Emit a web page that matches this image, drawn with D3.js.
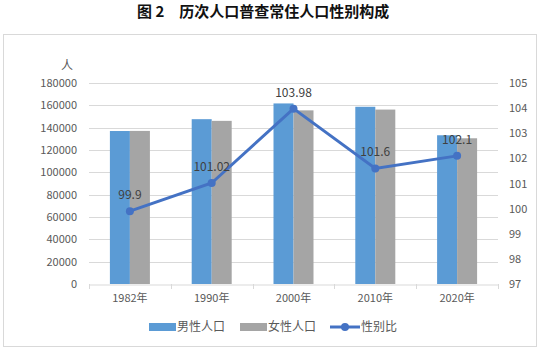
<!DOCTYPE html>
<html>
<head>
<meta charset="utf-8">
<script src="https://cdn.jsdelivr.net/npm/d3@7"></script>
<style>
    body{ margin:0; background:#fff; }
    text{ font-family: "Noto Sans CJK SC", "Noto Sans", sans-serif; }
    .tick text{ fill:#595959; font-size:11px; }
</style>
</head>
<body>
<script>
// data
const years = ["1982年", "1990年", "2000年", "2010年", "2020年"]
const male = [137000, 147600, 161700, 158700, 133200]
const female = [137100, 146100, 155500, 156200, 130500]
const ratio = [99.9, 101.02, 103.98, 101.6, 102.1]
const leftTicks = [0, 20000, 40000, 60000, 80000, 100000, 120000, 140000, 160000, 180000]
const rightTicks = [97, 98, 99, 100, 101, 102, 103, 104, 105]

const w = 540, h = 351
const plot = {left: 89, right: 498, top: 83, bottom: 284}

let svg = d3.select("body").append("svg")
    .attr("width", w).attr("height", h)

// title
svg.append("text")
    .attr("x", 137).attr("y", 17)
    .attr("font-size", 15).attr("font-weight", "bold").attr("fill", "#111")
    .text("图 2　历次人口普查常住人口性别构成")

// frame
svg.append("rect")
    .attr("x", 3.5).attr("y", 34.5).attr("width", 533).attr("height", 312)
    .attr("fill", "none").attr("stroke", "#d9d9d9")

let x = d3.scaleBand().domain(years).range([plot.left, plot.right])
let yL = d3.scaleLinear().domain([0, 180000]).range([plot.bottom, plot.top])
let yR = d3.scaleLinear().domain([97, 105]).range([plot.bottom, plot.top])

// gridlines
svg.append("g").selectAll("line")
    .data(leftTicks.slice(1))
    .enter().append("line")
    .attr("x1", plot.left).attr("x2", plot.right)
    .attr("y1", d => Math.round(yL(d)) + 0.5).attr("y2", d => Math.round(yL(d)) + 0.5)
    .attr("stroke", "#d9d9d9")

// left axis labels
let la = svg.append("g")
    .attr("transform", "translate(" + (plot.left - 12) + ",0)")
    .call(d3.axisLeft(yL).tickValues(leftTicks).tickSize(0).tickPadding(0).tickFormat(d3.format("d")))
la.select(".domain").remove()

// right axis labels
let ra = svg.append("g")
    .attr("transform", "translate(" + (plot.right + 11) + ",0)")
    .call(d3.axisRight(yR).tickValues(rightTicks).tickSize(0).tickPadding(0))
ra.select(".domain").remove()

svg.append("text")
    .attr("x", 67).attr("y", 70).attr("text-anchor", "middle")
    .attr("font-size", 12).attr("fill", "#595959")
    .text("人")

// bars
let bw = 20
svg.append("g").selectAll("rect")
    .data(male).enter().append("rect")
    .attr("x", (d, i) => x(years[i]) + x.bandwidth() / 2 - bw)
    .attr("y", d => yL(d))
    .attr("width", bw)
    .attr("height", d => plot.bottom - yL(d))
    .attr("fill", "#5b9bd5")
svg.append("g").selectAll("rect")
    .data(female).enter().append("rect")
    .attr("x", (d, i) => x(years[i]) + x.bandwidth() / 2)
    .attr("y", d => yL(d))
    .attr("width", bw)
    .attr("height", d => plot.bottom - yL(d))
    .attr("fill", "#a5a5a5")

// x axis
let xa = svg.append("g")
    .attr("transform", "translate(0," + (plot.bottom + 0.5) + ")")
    .call(d3.axisBottom(x).tickSize(0).tickPadding(10))
xa.select(".domain").attr("stroke", "#d9d9d9")
xa.selectAll(".tick text").attr("font-size", 12)
svg.append("g").selectAll("line")
    .data(d3.range(years.length + 1)).enter().append("line")
    .attr("x1", i => Math.round(plot.left + i * x.step()) + 0.5)
    .attr("x2", i => Math.round(plot.left + i * x.step()) + 0.5)
    .attr("y1", plot.bottom).attr("y2", plot.bottom + 5)
    .attr("stroke", "#d9d9d9")

// ratio line
let line = d3.line()
    .x((d, i) => x(years[i]) + x.bandwidth() / 2)
    .y(d => yR(d))
svg.append("path")
    .datum(ratio)
    .attr("d", line)
    .attr("fill", "none").attr("stroke", "#4472c4").attr("stroke-width", 3)
svg.append("g").selectAll("circle")
    .data(ratio).enter().append("circle")
    .attr("cx", (d, i) => x(years[i]) + x.bandwidth() / 2)
    .attr("cy", d => yR(d))
    .attr("r", 4)
    .attr("fill", "#4472c4")
svg.append("g").selectAll("text")
    .data(ratio).enter().append("text")
    .attr("x", (d, i) => x(years[i]) + x.bandwidth() / 2)
    .attr("y", d => yR(d) - 12)
    .attr("text-anchor", "middle")
    .attr("font-size", 12).attr("fill", "#404040")
    .text(d => d)

// legend
let lg = svg.append("g")
lg.append("rect").attr("x", 149).attr("y", 323).attr("width", 27).attr("height", 8).attr("fill", "#5b9bd5")
lg.append("text").attr("x", 177).attr("y", 331).attr("font-size", 12).attr("fill", "#595959").text("男性人口")
lg.append("rect").attr("x", 240).attr("y", 323).attr("width", 27).attr("height", 8).attr("fill", "#a5a5a5")
lg.append("text").attr("x", 268).attr("y", 331).attr("font-size", 12).attr("fill", "#595959").text("女性人口")
lg.append("line").attr("x1", 330).attr("x2", 360).attr("y1", 327).attr("y2", 327)
    .attr("stroke", "#4472c4").attr("stroke-width", 3)
lg.append("circle").attr("cx", 345).attr("cy", 327).attr("r", 4).attr("fill", "#4472c4")
lg.append("text").attr("x", 361).attr("y", 331).attr("font-size", 12).attr("fill", "#595959").text("性别比")
</script>
</body>
</html>
